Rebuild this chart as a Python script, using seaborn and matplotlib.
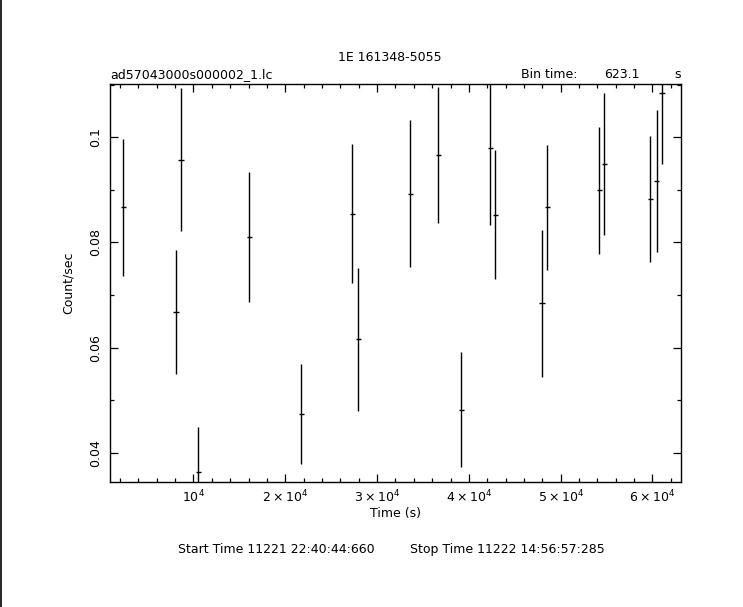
import numpy as np
import pandas as pd
import matplotlib
matplotlib.use('Agg')
import matplotlib.pyplot as plt
import seaborn as sns
from matplotlib.ticker import MultipleLocator, FixedLocator, FixedFormatter
from matplotlib.lines import Line2D

# light curve: time (s), rate (count/sec), 1-sigma error
time_s = [2375, 8083, 8660, 10545, 16100, 21765, 27320, 27974, 33638, 36688,
          39194, 42353, 42898, 47952, 48562, 54227, 54771, 59782, 60436, 61024]
rate = [0.0867, 0.0667, 0.0957, 0.0363, 0.0810, 0.0473, 0.0855, 0.0616, 0.0893, 0.0966,
        0.0482, 0.0979, 0.0853, 0.0684, 0.0867, 0.0899, 0.0949, 0.0882, 0.0916, 0.1084]
rate_err = [0.0130, 0.0118, 0.0136, 0.0086, 0.0124, 0.0095, 0.0133, 0.0136, 0.0139, 0.0129,
            0.0109, 0.0145, 0.0122, 0.0140, 0.0119, 0.0121, 0.0135, 0.0120, 0.0135, 0.0134]
bin_time = 623.1

x_ticks = [10000, 20000, 30000, 40000, 50000, 60000]
x_tick_labels = [r'$10^4$', r'$2\times10^4$', r'$3\times10^4$',
                 r'$4\times10^4$', r'$5\times10^4$', r'$6\times10^4$']
y_ticks = [0.04, 0.06, 0.08, 0.1]
y_tick_labels = ['0.04', '0.06', '0.08', '0.1']

df = pd.DataFrame({'time': time_s, 'rate': rate, 'err': rate_err})

sns.set_theme(style='ticks')
plt.rcParams['font.family'] = ['DejaVu Sans']
plt.rcParams['text.color'] = 'black'
plt.rcParams['axes.labelcolor'] = 'black'

fig = plt.figure(figsize=(7.43, 6.07), dpi=100)
ax = fig.add_axes([0.1485, 0.2064, 0.768, 0.655])

ax.errorbar(df['time'], df['rate'], yerr=df['err'], xerr=bin_time / 2,
            fmt='none', ecolor='black', elinewidth=1.0, capsize=0)

ax.set_xlim(950, 63100)
ax.set_ylim(0.0345, 0.1101)

ax.xaxis.set_major_locator(FixedLocator(x_ticks))
ax.xaxis.set_major_formatter(FixedFormatter(x_tick_labels))
ax.xaxis.set_minor_locator(MultipleLocator(2000))
ax.yaxis.set_major_locator(FixedLocator(y_ticks))
ax.yaxis.set_major_formatter(FixedFormatter(y_tick_labels))
ax.yaxis.set_minor_locator(MultipleLocator(0.01))

ax.tick_params(which='both', direction='in', top=True, right=True,
               color='black', width=0.9, labelsize=9, labelcolor='black')
ax.tick_params(which='major', length=5.5)
ax.tick_params(which='minor', length=3)
ax.tick_params(axis='x', pad=5)
ax.tick_params(axis='y', pad=6)
for lab in ax.get_yticklabels():
    lab.set_rotation(90)
    lab.set_va('center')

for s in ax.spines.values():
    s.set_color('black')
    s.set_linewidth(1.0)

ax.set_xlabel('Time (s)', fontsize=9, color='black', labelpad=1)
ax.set_ylabel('Count/sec', fontsize=9, color='black', labelpad=10)

fig.text(0.525, 0.905, '1E 161348-5055', fontsize=9, ha='center', va='center')
fig.text(0.1485, 0.877, 'ad57043000s000002_1.lc', fontsize=9, ha='left', va='center')
fig.text(0.701, 0.877, 'Bin time:', fontsize=9, ha='left', va='center')
fig.text(0.813, 0.877, '623.1', fontsize=9, ha='left', va='center')
fig.text(0.907, 0.877, 's', fontsize=9, ha='left', va='center')
fig.text(0.239, 0.095, 'Start Time 11221 22:40:44:660', fontsize=9, ha='left', va='center')
fig.text(0.552, 0.095, 'Stop Time 11222 14:56:57:285', fontsize=9, ha='left', va='center')

fig.add_artist(Line2D([0.001, 0.001], [0, 1], color='black', linewidth=1.2,
                      transform=fig.transFigure))

fig.savefig('out.png', dpi=100, facecolor='white')
